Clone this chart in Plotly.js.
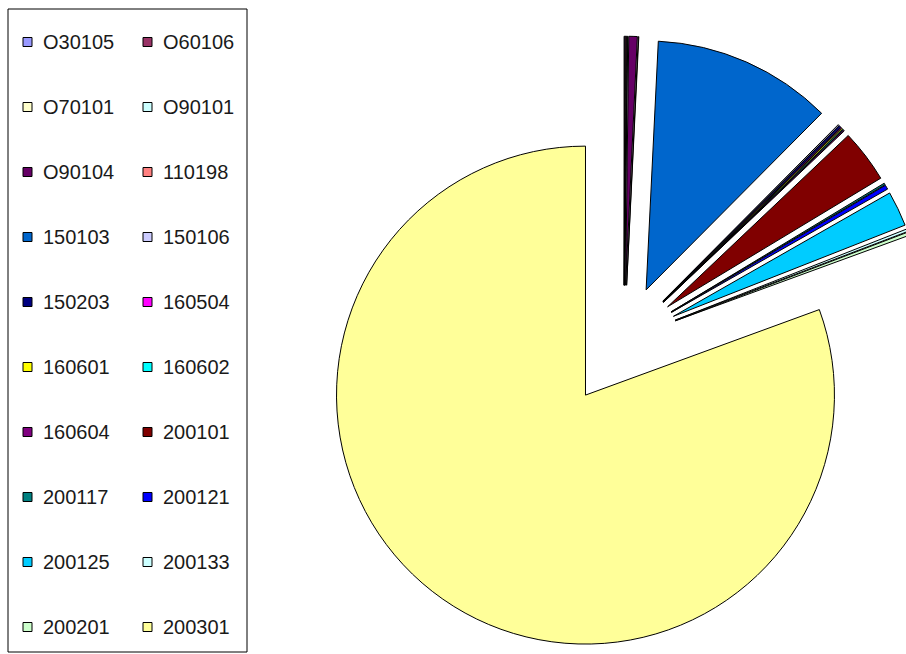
<!DOCTYPE html>
<html>
<head>
<meta charset="utf-8">
<script src="https://cdn.plot.ly/plotly-3.0.1.min.js"></script>
<style>
  html, body { margin: 0; padding: 0; overflow: hidden; background: #fff; }
  #chart { width: 960px; height: 700px; }
</style>
</head>
<body>
<div id="chart"></div>
<script>
// ---- data ----
const labels = ["O30105", "O60106", "O70101", "O90101", "O90104", "110198",
                "150103", "150106", "150203", "160504", "160601", "160602",
                "160604", "200101", "200117", "200121", "200125", "200133",
                "200201", "200301"];
const values = [0.05, 0.07, 0.05, 0.03, 0.55, 0.03,
                11.67, 0.08, 0.12, 0.06, 0.08, 0.06,
                0.07, 3.44, 0.11, 0.28, 2.28, 0.17,
                0.22, 80.58];
const colors = ["#9999FF", "#993366", "#FFFFCC", "#CCFFFF", "#660066", "#FF8080",
                "#0066CC", "#CCCCFF", "#000080", "#FF00FF", "#FFFF00", "#00FFFF",
                "#800080", "#800000", "#008080", "#0000FF", "#00CCFF", "#CCFFFF",
                "#CCFFCC", "#FFFF99"];

// ---- layout helpers ----
const W = 960, H = 700;
const px = x => x / W;
const py = y => 1 - y / H;

const pulls = labels.map((l, i) => (i === labels.length - 1 ? 0.27 : 0.22));

const trace = {
  type: "pie",
  labels: labels,
  values: values,
  sort: false,
  direction: "clockwise",
  rotation: 0,
  textinfo: "none",
  hoverinfo: "label+percent",
  pull: pulls,
  marker: { colors: colors, line: { color: "#000000", width: 1 } },
  domain: { x: [px(307.8), px(940.2)], y: [py(656.2), py(23.8)] },
  showlegend: false
};

// custom two-column legend, built from the label and colour arrays
const shapes = [{
  type: "rect", xref: "paper", yref: "paper",
  x0: px(8), x1: px(247), y0: py(652), y1: py(9),
  line: { color: "#000000", width: 1 }, fillcolor: "rgba(0,0,0,0)"
}];
const annotations = [];
const colSwatch = [23, 143];
const colText = [41, 161];
labels.forEach((lab, i) => {
  const row = Math.floor(i / 2), col = i % 2;
  const cy = 42 + 65 * row;
  shapes.push({
    type: "rect", xref: "paper", yref: "paper",
    x0: px(colSwatch[col]), x1: px(colSwatch[col] + 9),
    y0: py(cy + 4.5), y1: py(cy - 4.5),
    fillcolor: colors[i], line: { color: "#000000", width: 1 }
  });
  annotations.push({
    xref: "paper", yref: "paper",
    x: px(colText[col]), y: py(cy),
    xanchor: "left", yanchor: "middle",
    text: lab, showarrow: false,
    font: { family: "Liberation Sans, Arial, sans-serif", size: 20, color: "#1a1a1a" }
  });
});

const layout = {
  width: W, height: H,
  margin: { l: 0, r: 0, t: 0, b: 0 },
  paper_bgcolor: "#ffffff",
  showlegend: false,
  shapes: shapes,
  annotations: annotations
};

Plotly.newPlot("chart", [trace], layout, { displayModeBar: false, staticPlot: false });
</script>
</body>
</html>
